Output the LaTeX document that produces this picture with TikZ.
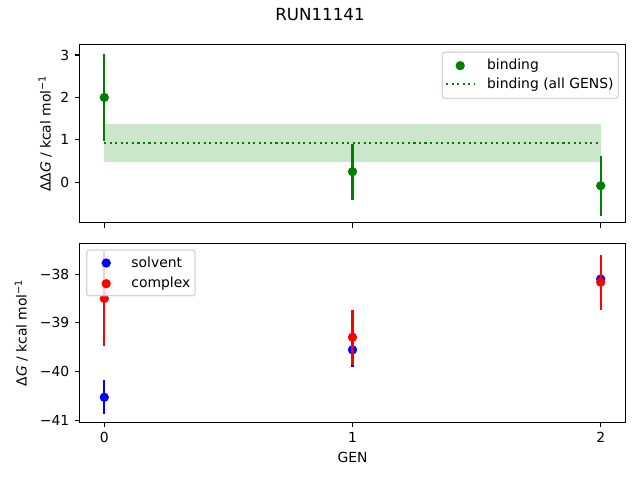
\documentclass[tikz,border=0pt]{standalone}
\usepackage{fontspec}
\setmainfont{DejaVu Sans}
\usetikzlibrary{positioning}
\usetikzlibrary{calc}
\definecolor{mplgreen}{RGB}{0,128,0}
\definecolor{legedge}{gray}{0.8}
\newcommand{\pxunit}{0.75pt}
\newcommand{\dotr}{3.5pt}
\newcommand{\ticklen}{3.645pt}
\tikzset{frame/.style={color=black,line width=0.83pt}}
\tikzset{tick/.style={color=black,line width=0.83pt}}
\tikzset{ticklabel/.style={font=\fontsize{10.42}{12.5}\selectfont,inner sep=0pt}}
\tikzset{errbar/.style={color=#1,line width=1.56pt},errbar/.default=mplgreen}
\tikzset{dot/.style={fill=#1},dot/.default=mplgreen}
\tikzset{meanline/.style={color=mplgreen,line width=1.56pt,dash pattern=on 1.56pt off 2.58pt}}
\tikzset{legbox/.style={draw=legedge,line width=1.04pt,fill=white,fill opacity=0.8,draw opacity=0.8,rounded corners=2pt}}
\tikzset{legtext/.style={font=\fontsize{10.42}{12.5}\selectfont,inner sep=0pt,anchor=base west}}
\tikzset{ylab/.style={font=\fontsize{10.42}{12.5}\selectfont,inner sep=0pt,rotate=90,anchor=base}}

\begin{document}
\begin{tikzpicture}[x=\pxunit,y=\pxunit]
	\useasboundingbox (0,0) rectangle (640,480);
	\node [anchor=base,inner sep=0pt,font=\fontsize{12.5}{15}\selectfont] (title) at (320,459.3) {RUN11141};

	% binding free energy
	\begin{scope}[shift={(104.3,297.7)},x=186.15pt,y=31.82pt]
		\fill [mplgreen,opacity=0.2] (0,0.486) rectangle (2,1.374);
		\foreach \gx/\gv/\ge in {0/2.0/1.02, 1/0.25/0.66, 2/-0.08/0.71} {
			\draw [errbar] (\gx,\gv-\ge) -- (\gx,\gv+\ge);
			\fill [dot] (\gx,\gv) circle [radius=\dotr];
		}
		\draw [meanline] (0,0.93) -- (2,0.93);
		\draw [frame] (-0.1,-0.952) rectangle (2.1,3.25);
		\foreach \x in {0,1,2}
			\draw [tick] (\x,-0.952) -- ++(0pt,-\ticklen);
		\foreach \y in {0,...,3}
			\draw [tick] (-0.1,\y) -- ++(-\ticklen,0pt) node [ticklabel,left=\ticklen] (yt\y) {\y};
	\end{scope}
	\node [ylab] (ylabtop) at (50.5,346.35) {ΔΔ{\itshape G} / kcal mol\textsuperscript{−1}};

	\draw [legbox] (442.3,381.7) rectangle (618.3,427.7);
	\coordinate (hbind) at (460.2,414.3);
	\coordinate (hall) at (460.2,396);
	\fill [dot] (hbind) circle [radius=\dotr];
	\draw [meanline] ($(hall)+(-13.9,0)$) -- ($(hall)+(13.9,0)$);
	\node [legtext] (lbind) at ([shift={(26.6,-4.2)}]hbind) {binding};
	\node [legtext] (lall) at ([shift={(26.6,-4.2)}]hall) {binding (all GENS)};

	% solvent and complex legs
	\begin{scope}[shift={(104.3,2055.16)},x=186.15pt,y=36.5pt]
		\foreach \gx/\gv in {0/-40.53, 1/-39.555, 2/-38.10}
			\fill [dot=blue] (\gx,\gv) circle [radius=\dotr];
		\foreach \gx/\gv in {0/-38.50, 1/-39.295, 2/-38.165}
			\fill [dot=red] (\gx,\gv) circle [radius=\dotr];
		\foreach \gx/\gv/\ge in {0/-40.53/0.35, 1/-39.555/0.35, 2/-38.10/0.35}
			\draw [errbar=blue] (\gx,\gv-\ge) -- (\gx,\gv+\ge);
		\foreach \gx/\gv/\ge in {0/-38.50/0.97, 1/-39.295/0.565, 2/-38.165/0.565}
			\draw [errbar=red] (\gx,\gv-\ge) -- (\gx,\gv+\ge);
		\draw [frame] (-0.1,-41.04) rectangle (2.1,-37.363);
		\foreach \x in {0,1,2}
			\draw [tick] (\x,-41.04) -- ++(0pt,-\ticklen) node [ticklabel,below=\ticklen] (xt\x) {\x};
		\foreach \y in {38,...,41}
			\draw [tick] (-0.1,-\y) -- ++(-\ticklen,0pt) node [ticklabel,left=\ticklen] (yb\y) {−\y};
	\end{scope}
	\node [ylab] (ylabbot) at (26.7,147.2) {Δ{\itshape G} / kcal mol\textsuperscript{−1}};
	\node [anchor=base,inner sep=0pt,font=\fontsize{10.42}{12.5}\selectfont] (xlab) at (352.5,17.3) {GEN};

	\draw [legbox] (86.7,184.3) rectangle (195,230);
	\coordinate (hsolv) at (106.2,217);
	\coordinate (hcplx) at (106.2,196.3);
	\fill [dot=blue] (hsolv) circle [radius=\dotr];
	\fill [dot=red] (hcplx) circle [radius=\dotr];
	\node [legtext] (lsolv) at ([shift={(25,-4.2)}]hsolv) {solvent};
	\node [legtext] (lcplx) at ([shift={(25,-4.2)}]hcplx) {complex};
\end{tikzpicture}
\end{document}
